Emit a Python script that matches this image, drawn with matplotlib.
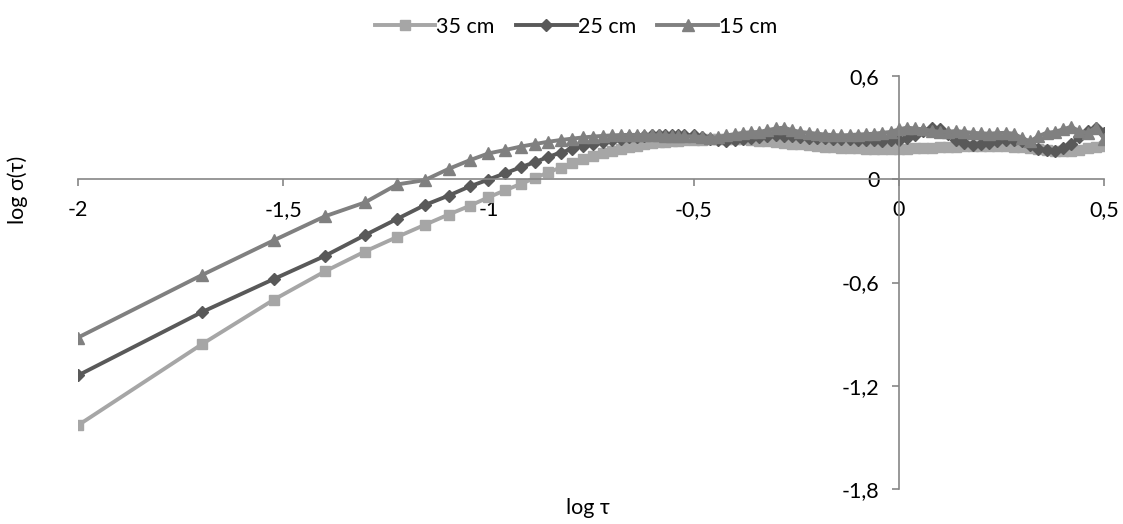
import matplotlib
matplotlib.use("Agg")
import matplotlib.pyplot as plt

plt.rcParams['font.family'] = ['Lato', 'DejaVu Sans']

# log tau grid: tau = 0.01 ... 0.30, then every 0.02 in log tau up to 0.5
log_tau = [-2.0, -1.699, -1.523, -1.398, -1.301, -1.222, -1.155, -1.097, -1.046, -1.0,
           -0.959, -0.921, -0.886, -0.854, -0.824, -0.796, -0.770, -0.745, -0.721, -0.699,
           -0.678, -0.658, -0.638, -0.620, -0.602, -0.585, -0.569, -0.553, -0.538, -0.523,
           -0.50, -0.48, -0.46, -0.44, -0.42, -0.40, -0.38, -0.36, -0.34, -0.32,
           -0.30, -0.28, -0.26, -0.24, -0.22, -0.20, -0.18, -0.16, -0.14, -0.12,
           -0.10, -0.08, -0.06, -0.04, -0.02, 0.00, 0.02, 0.04, 0.06, 0.08,
           0.10, 0.12, 0.14, 0.16, 0.18, 0.20, 0.22, 0.24, 0.26, 0.28,
           0.30, 0.32, 0.34, 0.36, 0.38, 0.40, 0.42, 0.44, 0.46, 0.48, 0.50]

sigma_35 = [-1.43, -0.96, -0.70, -0.535, -0.42, -0.335, -0.265, -0.205, -0.155, -0.105,
            -0.064, -0.027, 0.008, 0.04, 0.068, 0.093, 0.115, 0.135, 0.152, 0.166,
            0.178, 0.188, 0.196, 0.203, 0.209, 0.214, 0.218, 0.221, 0.224, 0.226,
            0.228, 0.230, 0.232, 0.234, 0.235, 0.234, 0.232, 0.229, 0.225, 0.221,
            0.217, 0.212, 0.207, 0.202, 0.198, 0.194, 0.190, 0.187, 0.184, 0.182,
            0.180, 0.178, 0.177, 0.176, 0.176, 0.177, 0.178, 0.180, 0.182, 0.184,
            0.186, 0.188, 0.190, 0.192, 0.193, 0.194, 0.194, 0.193, 0.191, 0.189,
            0.186, 0.182, 0.176, 0.170, 0.166, 0.164, 0.166, 0.172, 0.180, 0.188, 0.195]

sigma_25 = [-1.14, -0.773, -0.58, -0.445, -0.325, -0.23, -0.15, -0.095, -0.042, -0.002,
            0.035, 0.07, 0.10, 0.13, 0.155, 0.175, 0.193, 0.207, 0.218, 0.228,
            0.236, 0.243, 0.248, 0.252, 0.255, 0.257, 0.258, 0.258, 0.257, 0.256,
            0.255, 0.245, 0.235, 0.228, 0.225, 0.226, 0.232, 0.240, 0.247, 0.252,
            0.255, 0.253, 0.250, 0.246, 0.242, 0.240, 0.238, 0.236, 0.235, 0.233,
            0.230, 0.228, 0.226, 0.225, 0.226, 0.230, 0.240, 0.255, 0.280, 0.298,
            0.290, 0.262, 0.228, 0.208, 0.200, 0.204, 0.212, 0.220, 0.226, 0.230,
            0.220, 0.200, 0.178, 0.168, 0.165, 0.180, 0.205, 0.245, 0.280, 0.300, 0.270]

sigma_15 = [-0.92, -0.558, -0.355, -0.215, -0.135, -0.03, -0.005, 0.06, 0.11, 0.15,
            0.17, 0.19, 0.205, 0.218, 0.228, 0.236, 0.243, 0.248, 0.252, 0.255,
            0.257, 0.258, 0.258, 0.257, 0.256, 0.255, 0.254, 0.252, 0.250, 0.249,
            0.250, 0.245, 0.240, 0.245, 0.255, 0.262, 0.270, 0.273, 0.275, 0.285,
            0.295, 0.300, 0.285, 0.275, 0.270, 0.265, 0.260, 0.257, 0.255, 0.257,
            0.260, 0.262, 0.265, 0.270, 0.275, 0.290, 0.300, 0.295, 0.290, 0.282,
            0.275, 0.277, 0.280, 0.275, 0.270, 0.267, 0.265, 0.268, 0.270, 0.265,
            0.240, 0.220, 0.250, 0.270, 0.275, 0.290, 0.305, 0.280, 0.270, 0.300, 0.235]

x_ticks = [-2, -1.5, -1, -0.5, 0, 0.5]
x_tick_labels = ["-2", "-1,5", "-1", "-0,5", "0", "0,5"]
y_ticks = [-1.8, -1.2, -0.6, 0, 0.6]
y_tick_labels = ["-1,8", "-1,2", "-0,6", "0", "0,6"]

fig = plt.figure(figsize=(11.23, 5.24), dpi=100)
ax = fig.add_axes([78 / 1123, 1 - 489 / 524, (1104 - 78) / 1123, (489 - 76) / 524])

ax.plot(log_tau, sigma_35, color="#A6A6A6", lw=2.8, marker="s", ms=7, label="35 cm")
ax.plot(log_tau, sigma_25, color="#595959", lw=2.8, marker="D", ms=6, label="25 cm")
ax.plot(log_tau, sigma_15, color="#808080", lw=2.8, marker="^", ms=8, label="15 cm")

ax.set_xlim(-2, 0.5)
ax.set_ylim(-1.8, 0.6)

axis_color = "#868686"
ax.spines['left'].set_position(('data', 0))
ax.spines['bottom'].set_position(('data', 0))
ax.spines['top'].set_visible(False)
ax.spines['right'].set_visible(False)
for s in ['left', 'bottom']:
    ax.spines[s].set_color(axis_color)
    ax.spines[s].set_linewidth(1.2)

ax.set_xticks(x_ticks)
ax.set_xticklabels(x_tick_labels)
ax.set_yticks(y_ticks)
ax.set_yticklabels(y_tick_labels)
ax.tick_params(axis='x', direction='out', length=5, width=1.2, color=axis_color,
               labelsize=15.5, pad=10)
ax.tick_params(axis='y', direction='out', length=5, width=1.2, color=axis_color,
               labelsize=15.5, pad=9)

fig.text(18 / 1123, 1 - 190 / 524, "log σ(τ)", rotation=90, ha="center", va="center", fontsize=15.5)
fig.text(588 / 1123, 1 - 508 / 524, "log τ", ha="center", va="center", fontsize=15.5)

fig.legend(loc="upper center", bbox_to_anchor=(0.513, 1.005), ncol=3, frameon=False,
           fontsize=15.5, handlelength=2.8, handletextpad=0.05, columnspacing=1.0)

fig.savefig("out.png", dpi=100)
